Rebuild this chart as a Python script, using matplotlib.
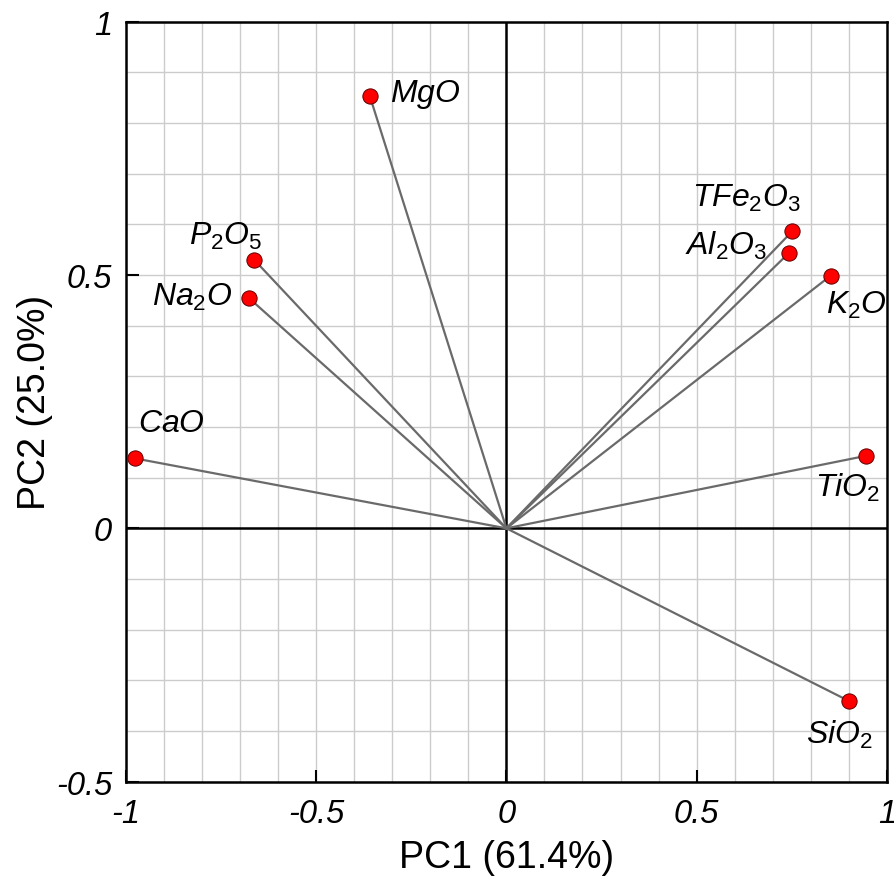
import matplotlib.pyplot as plt
import numpy as np

plt.rcParams['font.family'] = ['Liberation Sans', 'DejaVu Sans']
plt.rcParams['mathtext.fontset'] = 'custom'
plt.rcParams['mathtext.it'] = 'Liberation Sans:italic'
plt.rcParams['mathtext.rm'] = 'Liberation Sans'

# loadings
names = ['MgO', 'P2O5', 'Na2O', 'CaO', 'TFe2O3', 'Al2O3', 'K2O', 'TiO2', 'SiO2']
labels = [r'$\mathit{MgO}$', r'$\mathit{P_2O_5}$', r'$\mathit{Na_2O}$', r'$\mathit{CaO}$',
          r'$\mathit{TFe_2O_3}$', r'$\mathit{Al_2O_3}$', r'$\mathit{K_2O}$',
          r'$\mathit{TiO_2}$', r'$\mathit{SiO_2}$']
pc1 = [-0.359, -0.663, -0.676, -0.976, 0.751, 0.742, 0.853, 0.945, 0.901]
pc2 = [0.853, 0.530, 0.454, 0.138, 0.586, 0.543, 0.499, 0.143, -0.341]

# label offsets in pixels and alignment
offs = [(20, 3, 'left'), (-29, 24, 'center'), (-17, 2, 'right'), (3, 35, 'left'),
        (-46, 34, 'center'), (-22, 8, 'right'), (-5, -29, 'left'),
        (-18, -31, 'center'), (-10, -33, 'center')]

fig = plt.figure(figsize=(8.95, 8.79), dpi=100)
ax = fig.add_axes([0.1408, 0.1096, 0.850, 0.8646])

ax.set_xlim(-1, 1)
ax.set_ylim(-0.5, 1)

# fine grid
for v in np.arange(-1, 1.01, 0.1):
    ax.axvline(v, color='#cccccc', lw=1.0, zorder=0)
for v in np.arange(-0.5, 1.01, 0.1):
    ax.axhline(v, color='#cccccc', lw=1.0, zorder=0)
ax.axhline(0, color='black', lw=1.8, zorder=1)
ax.axvline(0, color='black', lw=1.8, zorder=1)

for x, y in zip(pc1, pc2):
    ax.plot([0, x], [0, y], color='#6a6a6a', lw=1.6, zorder=2)
ax.plot(pc1, pc2, 'o', ms=11, mfc='#ff0000', mec='#600000', mew=0.7, zorder=3, clip_on=False)

for lab, x, y, (dx, dy, ha) in zip(labels, pc1, pc2, offs):
    ax.annotate(lab, (x, y), xytext=(dx, dy), textcoords='offset pixels',
                ha=ha, va='center', fontsize=23, zorder=4)

for s in ax.spines.values():
    s.set_linewidth(1.8)

ax.set_xticks([-1, -0.5, 0, 0.5, 1])
ax.set_xticklabels(['-1', '-0.5', '0', '0.5', '1'])
ax.set_yticks([-0.5, 0, 0.5, 1])
ax.set_yticklabels(['-0.5', '0', '0.5', '1'])
ax.tick_params(direction='in', length=9, width=1.5, labelsize=23.5)
ax.tick_params(axis='x', pad=12)
ax.tick_params(axis='y', pad=10)
for t in ax.get_xticklabels() + ax.get_yticklabels():
    t.set_fontstyle('italic')

ax.set_xlabel('PC1 (61.4%)', fontsize=27, labelpad=7)
ax.set_ylabel('PC2 (25.0%)', fontsize=27, labelpad=2)

fig.savefig('out.png', dpi=100)
